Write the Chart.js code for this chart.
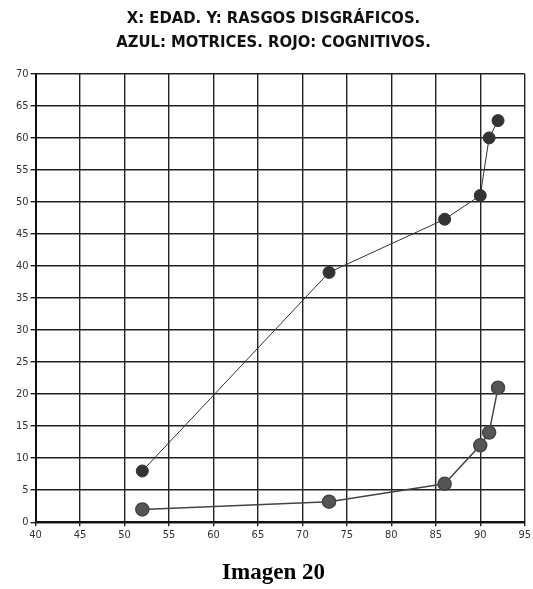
<!DOCTYPE html>
<html>
<head>
<meta charset="utf-8">
<script src="https://cdn.jsdelivr.net/npm/chart.js@4.4.0/dist/chart.umd.min.js"></script>
<style>
  body { margin: 0; background: #fff; }
  #wrap { width: 533px; height: 589px; position: relative; }
</style>
</head>
<body>
<div id="wrap"><canvas id="chart" width="533" height="589"></canvas></div>
<script>
// edad (x) y rasgos disgráficos (y)
const motricesEdad = [52, 73, 86, 90, 91, 92];
const motricesRasgos = [8, 39, 47.3, 51, 60, 62.7];
const cognitivosEdad = [52, 73, 86, 90, 91, 92];
const cognitivosRasgos = [2, 3.2, 6, 12, 14, 21];

const titleLines = ['X: EDAD. Y: RASGOS DISGRÁFICOS.', 'AZUL: MOTRICES. ROJO: COGNITIVOS.'];
const caption = 'Imagen 20';

const toPoints = (xs, ys) => xs.map((x, i) => ({ x: x, y: ys[i] }));

const narrow = '"Liberation Sans Narrow", "Arial Narrow", "DejaVu Sans Condensed", sans-serif';

new Chart(document.getElementById('chart'), {
    type: 'scatter',
    data: {
        datasets: [
            {
                label: 'Motrices',
                data: toPoints(motricesEdad, motricesRasgos),
                showLine: true,
                borderColor: '#333',
                borderWidth: 1,
                backgroundColor: '#333',
                pointRadius: 6,
                pointHoverRadius: 6
            },
            {
                label: 'Cognitivos',
                data: toPoints(cognitivosEdad, cognitivosRasgos),
                showLine: true,
                borderColor: '#444',
                borderWidth: 1.5,
                backgroundColor: '#555',
                pointRadius: 6.5,
                pointHoverRadius: 6.5
            }
        ]
    },
    options: {
        responsive: false,
        animation: false,
        layout: { padding: { left: 14, right: 0, top: 0, bottom: 0 } },
        plugins: {
            legend: { display: false },
            tooltip: { enabled: false },
            title: {
                display: true,
                text: titleLines,
                color: '#111',
                font: { family: narrow, size: 16.5, weight: 'bold', lineHeight: 1.45 },
                padding: { top: 7, bottom: 19 }
            },
            subtitle: {
                display: true,
                position: 'bottom',
                text: caption,
                color: '#000',
                font: { family: '"Liberation Serif", "Times New Roman", serif', size: 23, weight: 'bold' },
                padding: { top: 16, bottom: 2 }
            }
        },
        scales: {
            x: {
                type: 'linear',
                min: 40,
                max: 95,
                ticks: { stepSize: 5, color: '#333', font: { family: narrow, size: 11 }, padding: 2 },
                grid: { color: '#222', lineWidth: 1.4, tickLength: 4 },
                border: { color: '#111', width: 2 }
            },
            y: {
                min: 0,
                max: 70,
                ticks: { stepSize: 5, color: '#333', font: { family: narrow, size: 11 }, padding: 2 },
                grid: { color: '#222', lineWidth: 1.4, tickLength: 5 },
                border: { color: '#111', width: 2 }
            }
        }
    }
});
</script>
</body>
</html>
